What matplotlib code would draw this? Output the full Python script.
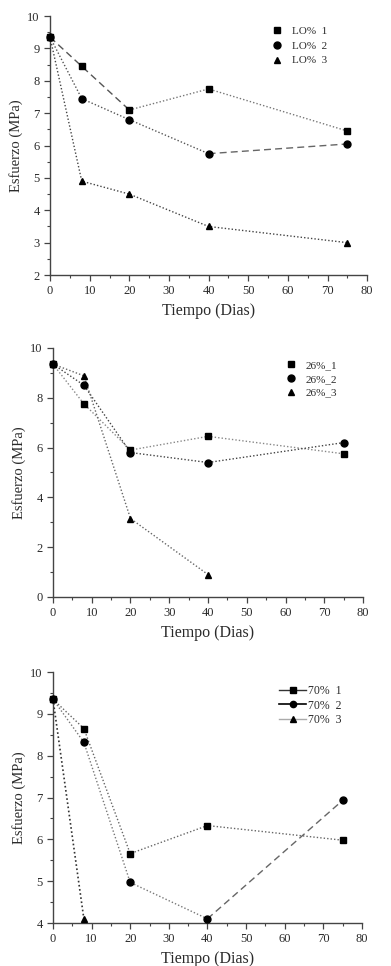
import matplotlib
matplotlib.use("Agg")
import matplotlib.pyplot as plt
from matplotlib.ticker import MultipleLocator

plt.rcParams["font.family"] = ["Liberation Serif", "DejaVu Serif"]

dias = [0, 8, 20, 40, 75]

# panel 1: LO%
lo_1 = [9.35, 8.45, 7.1, 7.75, 6.45]
lo_2 = [9.35, 7.45, 6.8, 5.75, 6.05]
lo_3 = [9.35, 4.9, 4.5, 3.5, 3.0]
lo_labels = ["LO%  1", "LO%  2", "LO%  3"]

# panel 2: 26%
p26_1 = [9.35, 7.75, 5.9, 6.45, 5.75]
p26_2 = [9.35, 8.5, 5.8, 5.4, 6.2]
dias_26_3 = [0, 8, 20, 40]
p26_3 = [9.35, 8.88, 3.15, 0.9]
p26_labels = ["26%_1", "26%_2", "26%_3"]

# panel 3: 70%
p70_1 = [9.35, 8.65, 5.66, 6.33, 5.98]
p70_2 = [9.35, 8.32, 4.97, 4.1, 6.93]
dias_70_3 = [0, 8]
p70_3 = [9.35, 4.1]
p70_labels = ["70%  1", "70%  2", "70%  3"]

DOT = (0, (1, 1.5))
DASH = (0, (5, 3))
MS = 5
TXT = "#2a2a2a"

fig = plt.figure(figsize=(3.91, 9.66), dpi=100)
fig.patch.set_facecolor("white")


def style_axes(ax, ylim, ymajor):
    ax.set_xlim(0, 80)
    ax.set_ylim(*ylim)
    ax.xaxis.set_major_locator(MultipleLocator(10))
    ax.xaxis.set_minor_locator(MultipleLocator(5))
    ax.yaxis.set_major_locator(MultipleLocator(ymajor))
    ax.yaxis.set_minor_locator(MultipleLocator(ymajor / 2))
    for s in ["top", "right"]:
        ax.spines[s].set_visible(False)
    for s in ["left", "bottom"]:
        ax.spines[s].set_color("#444444")
        ax.spines[s].set_linewidth(1.0)
    ax.tick_params(which="major", direction="out", length=4, width=0.9,
                   colors="#444444", labelsize=9, labelcolor=TXT)
    ax.tick_params(which="minor", direction="out", length=2.5, width=0.8,
                   colors="#444444")
    ax.set_xlabel("Tiempo (Dias)", fontsize=11.5, color=TXT, labelpad=4)
    ax.set_ylabel("Esfuerzo (MPa)", fontsize=10.5, color=TXT, labelpad=3)


def seg(ax, x, y, ls, color, lw=1.0):
    ax.plot(x, y, linestyle=ls, color=color, linewidth=lw, zorder=2, clip_on=False)


# ---------------- panel 1 ----------------
ax1 = fig.add_axes([0.128, 0.7153, 0.811, 0.268])
seg(ax1, dias[:3], lo_1[:3], DASH, "#555555")
seg(ax1, dias[2:], lo_1[2:], DOT, "#777777")
seg(ax1, dias[:4], lo_2[:4], DOT, "#555555")
seg(ax1, dias[3:], lo_2[3:], DASH, "#666666")
seg(ax1, dias, lo_3, DOT, "#444444")
h1 = ax1.plot(dias, lo_1, "s", color="black", ms=MS, ls="none", zorder=3, clip_on=False)
h2 = ax1.plot(dias, lo_2, "o", color="black", ms=MS, ls="none", zorder=3, clip_on=False)
h3 = ax1.plot(dias, lo_3, "^", color="black", ms=MS, ls="none", zorder=3, clip_on=False)
style_axes(ax1, (2, 10), 1)
ax1.legend(h1 + h2 + h3, lo_labels, loc="upper right", bbox_to_anchor=(0.905, 1.0),
           frameon=False, fontsize=8, handlelength=1.0, handletextpad=0.8,
           labelspacing=0.45, labelcolor=TXT)

# ---------------- panel 2 ----------------
ax2 = fig.add_axes([0.1355, 0.382, 0.793, 0.2578])
seg(ax2, dias, p26_1, DOT, "#888888")
seg(ax2, dias, p26_2, DOT, "#444444")
seg(ax2, dias_26_3, p26_3, DOT, "#666666")
h1 = ax2.plot(dias, p26_1, "s", color="black", ms=MS, ls="none", zorder=3, clip_on=False)
h2 = ax2.plot(dias, p26_2, "o", color="black", ms=MS, ls="none", zorder=3, clip_on=False)
h3 = ax2.plot(dias_26_3, p26_3, "^", color="black", ms=MS, ls="none", zorder=3, clip_on=False)
style_axes(ax2, (0, 10), 2)
ax2.legend(h1 + h2 + h3, p26_labels, loc="upper right", bbox_to_anchor=(0.95, 0.99),
           frameon=False, fontsize=8, handlelength=1.0, handletextpad=0.8,
           labelspacing=0.35, labelcolor=TXT)

# ---------------- panel 3 ----------------
ax3 = fig.add_axes([0.1355, 0.0445, 0.790, 0.2598])
seg(ax3, dias, p70_1, DOT, "#666666")
seg(ax3, dias[:4], p70_2[:4], DOT, "#777777")
seg(ax3, dias[3:], p70_2[3:], DASH, "#666666")
seg(ax3, dias_70_3, p70_3, DOT, "#333333", lw=1.2)
ax3.plot(dias, p70_1, "s", color="black", ms=MS, ls="none", zorder=3, clip_on=False)
ax3.plot(dias, p70_2, "o", color="black", ms=MS, ls="none", zorder=3, clip_on=False)
ax3.plot(dias_70_3, p70_3, "^", color="black", ms=MS, ls="none", zorder=3, clip_on=False)
# legend handles drawn with lines, as in the original
l1, = ax3.plot([], [], "-s", color="#333333", mfc="black", mec="black", ms=4.5, lw=1.0)
l2, = ax3.plot([], [], "-o", color="black", ms=4.5, lw=1.2)
l3, = ax3.plot([], [], "-^", color="#aaaaaa", mfc="black", mec="black", ms=4.5, lw=1.0)
style_axes(ax3, (4, 10), 1)
ax3.legend([l1, l2, l3], p70_labels, loc="upper right", bbox_to_anchor=(0.97, 0.99),
           frameon=False, fontsize=8.5, handlelength=2.3, handletextpad=0.2,
           labelspacing=0.2, labelcolor=TXT)

fig.savefig("out.png", dpi=100, facecolor="white")
